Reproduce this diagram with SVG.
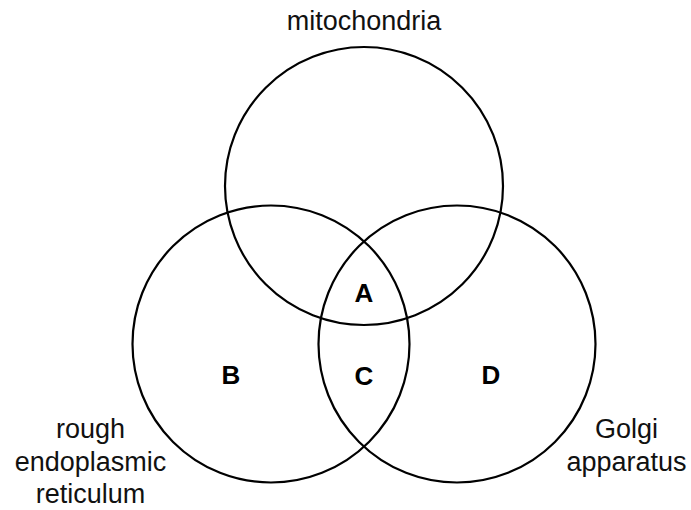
<svg xmlns="http://www.w3.org/2000/svg" width="691" height="510" viewBox="0 0 691 510">
<style>
.c{fill:none;stroke:#000;stroke-width:2.2}
.t{font-family:"Liberation Sans",Arial,sans-serif;font-size:27px;fill:#111;text-anchor:middle}
.b{font-family:"Liberation Sans",Arial,sans-serif;font-size:26px;font-weight:bold;fill:#000;text-anchor:middle}
</style>
<rect width="691" height="510" fill="#fff"/>
<g id="mitochondria">
<circle class="c" cx="364" cy="186" r="139"/>
<text class="t" x="364" y="30">mitochondria</text>
</g>
<g id="rough-er">
<circle class="c" cx="271" cy="344" r="138.5"/>
<text class="t" x="90.5" y="438">rough</text>
<text class="t" x="90.5" y="471">endoplasmic</text>
<text class="t" x="90.5" y="503">reticulum</text>
</g>
<g id="golgi">
<circle class="c" cx="457" cy="344" r="138.5"/>
<text class="t" x="626.5" y="438">Golgi</text>
<text class="t" x="626.5" y="471">apparatus</text>
</g>
<g id="regions">
<text class="b" x="364" y="302">A</text>
<text class="b" x="231" y="384">B</text>
<text class="b" x="364" y="385">C</text>
<text class="b" x="491" y="384">D</text>
</g>
<g id="connectors"></g>
</svg>
